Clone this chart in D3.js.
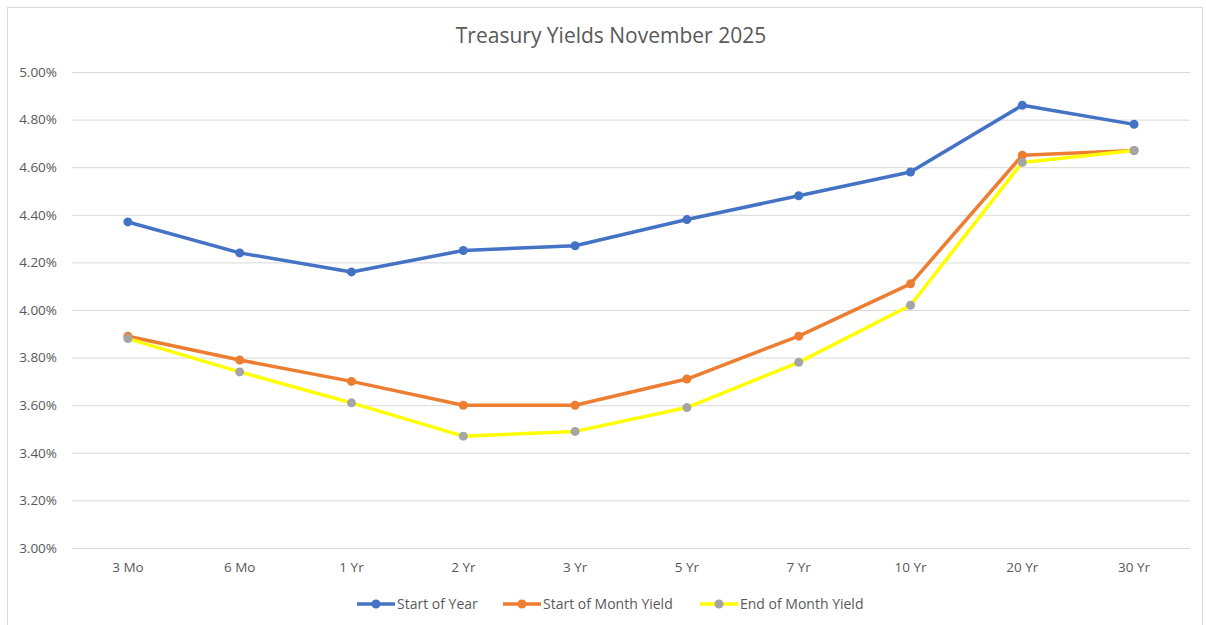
<!DOCTYPE html>
<html>
<head>
<meta charset="utf-8">
<script src="https://cdn.jsdelivr.net/npm/d3@7"></script>
<style>
    body { margin: 0; background: #fff; }
    text { font-family: "Open Sans", "Noto Sans", sans-serif; fill: #595959; }
</style>
</head>
<body>
<div id="chart"></div>
<script>
var categories = ["3 Mo", "6 Mo", "1 Yr", "2 Yr", "3 Yr", "5 Yr", "7 Yr", "10 Yr", "20 Yr", "30 Yr"];
var startOfYear = [4.37, 4.24, 4.16, 4.25, 4.27, 4.38, 4.48, 4.58, 4.86, 4.78];
var startOfMonth = [3.89, 3.79, 3.70, 3.60, 3.60, 3.71, 3.89, 4.11, 4.65, 4.67];
var endOfMonth = [3.88, 3.74, 3.61, 3.47, 3.49, 3.59, 3.78, 4.02, 4.62, 4.67];
var yTicks = [3.0, 3.2, 3.4, 3.6, 3.8, 4.0, 4.2, 4.4, 4.6, 4.8, 5.0];

var series = [
    { name: "Start of Year", values: startOfYear, line: "#4472c4", dot: "#4472c4" },
    { name: "Start of Month Yield", values: startOfMonth, line: "#ed7d31", dot: "#ed7d31" },
    { name: "End of Month Yield", values: endOfMonth, line: "#ffff00", dot: "#a5a5a5" }
];

var width = 1206, height = 625;
var margin = { left: 72, right: 16, top: 72, bottom: 77 };

var svg = d3.select("#chart").append("svg")
    .attr("width", width)
    .attr("height", height);

// chart frame
svg.append("rect")
    .attr("x", 7.5).attr("y", 7.5)
    .attr("width", 1195).attr("height", 640)
    .attr("fill", "none")
    .attr("stroke", "#d9d9d9");

var x = d3.scaleBand()
    .domain(categories)
    .range([margin.left, width - margin.right]);

var y = d3.scaleLinear()
    .domain([3.0, 5.0])
    .range([height - margin.bottom, margin.top]);

svg.append("text")
    .attr("x", 611).attr("y", 43)
    .attr("text-anchor", "middle")
    .style("font-size", "21px")
    .text("Treasury Yields November 2025");

// gridlines + y labels
var yAxis = d3.axisLeft(y)
    .tickValues(yTicks)
    .tickSize(-(width - margin.left - margin.right))
    .tickPadding(15)
    .tickFormat(function (d) { return d.toFixed(2) + "%"; });

var gy = svg.append("g")
    .attr("transform", "translate(" + margin.left + ",0)")
    .call(yAxis);
gy.select(".domain").remove();
gy.selectAll("line").attr("stroke", "#d9d9d9");
gy.selectAll("text").style("font-size", "13.5px").attr("fill", "#595959");

var xAxis = d3.axisBottom(x).tickSize(0).tickPadding(14);
var gx = svg.append("g")
    .attr("transform", "translate(0," + (height - margin.bottom) + ")")
    .call(xAxis);
gx.select(".domain").remove();
gx.selectAll("text").style("font-size", "13.5px").attr("fill", "#595959");

var line = d3.line()
    .x(function (d, i) { return x(categories[i]) + x.bandwidth() / 2; })
    .y(function (d) { return y(d); });

series.forEach(function (s) {
    svg.append("path")
        .datum(s.values)
        .attr("d", line)
        .attr("fill", "none")
        .attr("stroke", s.line)
        .attr("stroke-width", 3.5)
        .attr("stroke-linejoin", "round");
    svg.selectAll(null)
        .data(s.values)
        .enter().append("circle")
        .attr("cx", function (d, i) { return x(categories[i]) + x.bandwidth() / 2; })
        .attr("cy", function (d) { return y(d); })
        .attr("r", 4.5)
        .attr("fill", s.dot);
});

// legend
var legendX = [357, 503, 700];
var legend = svg.append("g");
series.forEach(function (s, i) {
    var g = legend.append("g").attr("transform", "translate(" + legendX[i] + ",604)");
    g.append("line")
        .attr("x1", 0).attr("x2", 38)
        .attr("stroke", s.line).attr("stroke-width", 3.5);
    g.append("circle").attr("cx", 19).attr("r", 4.5).attr("fill", s.dot);
    g.append("text")
        .attr("x", 40).attr("dy", "0.35em")
        .style("font-size", "14px")
        .text(s.name);
});
</script>
</body>
</html>
